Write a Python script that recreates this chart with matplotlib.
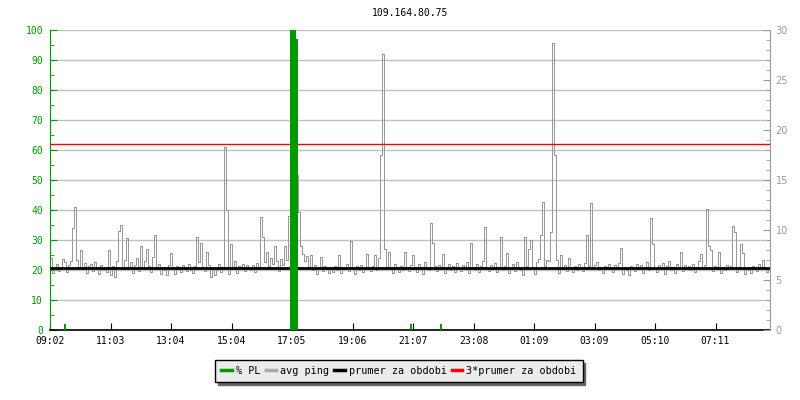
import numpy as np
import matplotlib.pyplot as plt
from matplotlib.lines import Line2D

title = '109.164.80.75'
step_min = 4  # one sample every 4 minutes, starting 09:02
tick_step = 121
tick_labels = ['09:02', '11:03', '13:04', '15:04', '17:05', '19:06',
               '21:07', '23:08', '01:09', '03:09', '05:10', '07:11']

# avg ping in ms (right axis)
ping = [
    7.2, 5.7, 6.0, 6.6, 5.9, 6.2, 7.1, 6.8, 5.8, 6.5, 6.9, 10.2, 12.3, 7.0, 6.3, 8.0, 6.1, 6.7, 5.7, 6.4,
    6.6, 5.9, 6.8, 6.2, 5.6, 6.5, 6.0, 6.3, 5.8, 8.0, 5.5, 6.4, 5.3, 6.9, 9.9, 10.5, 6.1, 7.0, 9.2, 6.2,
    6.8, 5.7, 6.5, 7.2, 5.9, 8.4, 6.2, 6.9, 8.1, 6.4, 5.8, 7.3, 9.5, 6.1, 6.6, 5.6, 6.3, 6.0, 5.5, 6.5,
    7.7, 6.2, 5.6, 6.4, 6.1, 5.8, 6.5, 6.3, 5.9, 6.6, 6.0, 5.7, 6.4, 9.3, 6.8, 8.7, 6.2, 5.9, 7.8, 6.5,
    5.3, 6.2, 5.5, 6.0, 6.6, 5.8, 6.3, 18.3, 12.0, 5.6, 8.6, 6.1, 6.9, 5.7, 6.4, 6.2, 6.6, 5.9, 6.5, 6.1,
    6.0, 6.5, 5.8, 6.7, 6.3, 11.3, 9.3, 6.8, 7.8, 6.4, 7.2, 6.6, 8.4, 6.9, 5.9, 7.1, 6.5, 8.4, 7.0, 11.4,
    0.0, 11.0, 12.5, 15.5, 11.8, 8.4, 7.6, 6.9, 7.4, 6.2, 7.5, 6.0, 6.5, 5.6, 6.3, 7.3, 5.9, 6.4, 6.1, 5.7,
    6.2, 5.8, 6.4, 6.0, 7.5, 5.7, 6.3, 6.1, 6.6, 5.9, 8.9, 6.2, 5.6, 6.4, 6.0, 6.5, 5.8, 6.3, 7.6, 6.1,
    5.9, 6.4, 7.5, 6.0, 7.2, 17.5, 27.6, 8.1, 6.3, 7.8, 6.1, 5.7, 6.6, 6.2, 5.8, 6.4, 6.0, 7.8, 6.3, 5.9,
    6.5, 7.5, 6.1, 5.8, 6.6, 6.3, 5.6, 6.8, 6.2, 6.0, 10.7, 8.7, 6.4, 5.9, 6.5, 6.1, 7.6, 5.7, 6.3, 6.6,
    6.0, 6.4, 5.8, 6.7, 6.2, 5.9, 6.5, 6.1, 6.8, 5.7, 8.7, 6.3, 6.0, 6.6, 5.8, 6.4, 6.9, 10.3, 6.2, 5.9,
    6.5, 6.1, 6.7, 5.8, 6.3, 9.3, 6.0, 6.4, 7.7, 5.7, 6.2, 6.6, 5.9, 6.8, 6.3, 6.0, 5.5, 9.3, 6.4, 8.1,
    9.0, 6.2, 5.6, 6.8, 7.1, 9.5, 12.8, 6.4, 7.0, 6.9, 9.8, 28.7, 17.5, 7.0, 5.7, 7.5, 6.1, 6.5, 5.9, 7.2,
    6.3, 5.8, 6.4, 6.0, 6.6, 6.2, 5.9, 6.7, 9.5, 6.4, 12.7, 6.1, 6.5, 6.8, 6.0, 6.3, 5.7, 6.4, 6.2, 6.6,
    6.1, 5.8, 6.5, 6.2, 6.7, 8.2, 5.6, 6.3, 6.0, 5.5, 6.4, 6.2, 5.9, 6.6, 6.1, 6.5, 5.7, 6.3, 6.8, 6.0,
    11.2, 8.6, 6.2, 5.8, 6.5, 6.1, 6.7, 5.6, 6.4, 6.9, 6.0, 6.3, 5.7, 6.6, 6.2, 7.8, 5.9, 6.5, 6.1, 6.4,
    6.0, 6.6, 5.8, 6.3, 6.9, 7.6, 6.2, 6.5, 12.1, 8.4, 8.0, 5.9, 6.4, 6.1, 7.8, 5.7, 6.3, 6.0, 6.5, 6.2,
    6.4, 10.4, 9.8, 5.8, 6.3, 8.6, 7.7, 5.6, 6.2, 6.0, 5.7, 6.4, 6.1, 5.9, 6.6, 6.3, 7.0, 6.2, 5.8, 6.0,
]

# packet loss in % (left axis), only the non-zero samples
pl_index = [7, 120, 121, 122, 123, 180, 195]
pl_value = [2, 100, 100, 100, 97, 2, 2]

mean_ping = 6.2

green = '#009900'
gray = '#999999'
mono = 'DejaVu Sans Mono'

fig = plt.figure(figsize=(8, 4), dpi=100)
ax = fig.add_axes([50 / 800, 70 / 400, 720 / 800, 300 / 400])
ax2 = ax.twinx()

x = np.arange(len(ping)) * step_min
ax2.plot(x + step_min / 2, ping, color='#999999', lw=0.5, drawstyle='steps-mid',
         antialiased=False, zorder=2)
ax2.axhline(mean_ping, color='black', lw=2, zorder=3)
ax2.axhline(3 * mean_ping, color='red', lw=1, zorder=3)

# PL uses the left (percent) scale but sits on top of the ping line
ax2.bar(np.array(pl_index) * step_min, pl_value, width=step_min, align='edge',
        color=green, linewidth=0, zorder=4, transform=ax.transData)

ax.set_xlim(0, len(ping) * step_min)
ax.set_ylim(0, 100)
ax2.set_ylim(0, 30)

ax.set_yticks(np.arange(0, 101, 10))
ax.set_yticks(np.arange(5, 100, 10), minor=True)
ax.yaxis.grid(True, color='#c0c0c0', lw=1)
ax.tick_params(axis='y', which='major', direction='in', length=5, color=green,
               labelcolor=green, labelsize=7, pad=5)
ax.tick_params(axis='y', which='minor', direction='in', length=3, color=green)
for lab in ax.get_yticklabels():
    lab.set_family(mono)

ax2.set_yticks(np.arange(0, 31, 5))
ax2.set_yticks(np.arange(0, 31, 1), minor=True)
ax2.tick_params(axis='y', which='major', direction='in', length=5, color=gray,
                labelcolor=gray, labelsize=7, pad=4)
ax2.tick_params(axis='y', which='minor', direction='in', length=3, color=gray)

ax.set_xticks(np.arange(len(tick_labels)) * tick_step)
ax.set_xticklabels(tick_labels, family=mono, fontsize=7)
ax.tick_params(axis='x', direction='in', length=5, color='black', pad=4)

for s in ['top', 'right']:
    ax.spines[s].set_visible(False)
for s in ['top', 'left', 'bottom']:
    ax2.spines[s].set_visible(False)
ax.spines['left'].set_color(green)
ax.spines['bottom'].set_color('black')
ax.spines['bottom'].set_linewidth(1.2)
ax2.spines['right'].set_color(gray)

fig.text(410 / 800, 1 - 13 / 400, title, ha='center', va='center', family=mono, fontsize=7)

handles = [Line2D([], [], color=green, lw=2.5),
           Line2D([], [], color='#aaaaaa', lw=2.5),
           Line2D([], [], color='black', lw=2.5),
           Line2D([], [], color='red', lw=2.5)]
labels = ['% PL', 'avg ping', 'prumer za obdobi', '3*prumer za obdobi']
leg = fig.legend(handles, labels, loc='center', bbox_to_anchor=(399 / 800, 29 / 400), ncol=4,
                 frameon=True, fancybox=False, shadow={'color': '#666666', 'alpha': 1},
                 handlelength=1.0, handletextpad=0.4, columnspacing=0.55, borderpad=0.6,
                 prop={'family': mono, 'size': 7.3})
leg.get_frame().set_edgecolor('black')
leg.get_frame().set_facecolor('#ebebeb')
leg.get_frame().set_alpha(1)
leg.get_frame().set_linewidth(1)

fig.savefig('out.png', dpi=100)
